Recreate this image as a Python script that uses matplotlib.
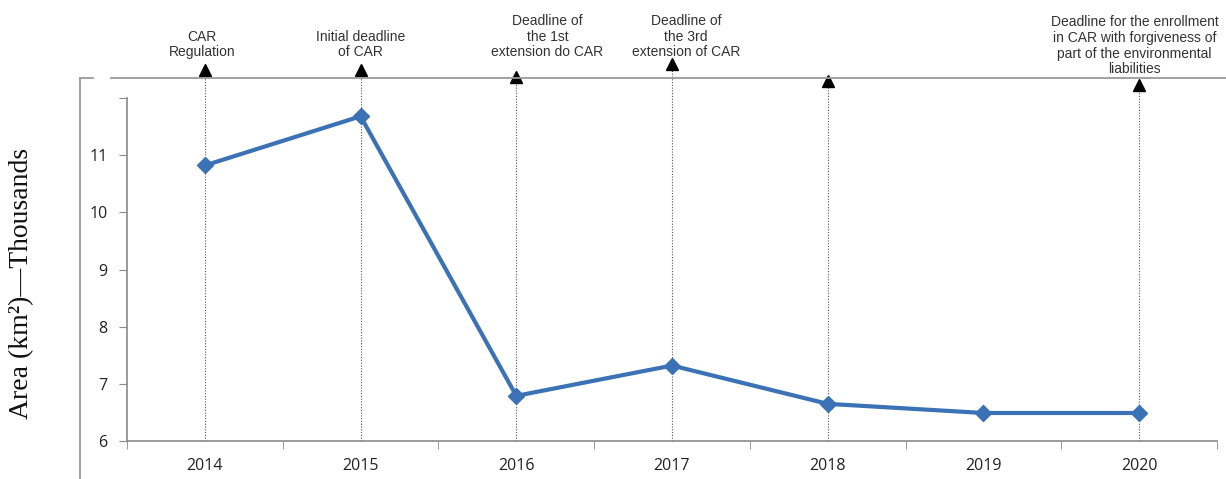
import matplotlib
matplotlib.use("Agg")
import matplotlib.pyplot as plt
from matplotlib.lines import Line2D

# data (km2, thousands)
years = ["2014", "2015", "2016", "2017", "2018", "2019", "2020"]
area = [10.82, 11.68, 6.79, 7.32, 6.65, 6.49, 6.49]
yticks = [6, 7, 8, 9, 10, 11]

# events marked by arrows: year index, label, arrow tip height (data units)
event_idx = [0, 1, 2, 3, 4, 6]
event_text = [
    "CAR\nRegulation",
    "Initial deadline\nof CAR",
    "Deadline of\nthe 1st\nextension do CAR",
    "Deadline of\nthe 3rd\nextension of CAR",
    "",
    "Deadline for the enrollment\nin CAR with forgiveness of\npart of the environmental\nliabilities",
]
event_tip = [12.58, 12.58, 12.46, 12.68, 12.38, 12.32]
# label placement: shift in category units, baseline of the last line (data units)
label_dx = [-0.02, 0.0, 0.2, 0.09, 0.0, -0.03]
label_base = [12.73, 12.73, 12.73, 12.73, 12.73, 12.43]

W, H = 1226, 479
fig = plt.figure(figsize=(W / 100, H / 100), dpi=100)
fig.patch.set_facecolor("white")

# outer bracket frame
gray = "#9a9a9a"
fig.add_artist(Line2D([80 / W, 80 / W], [0, 1 - 78 / H], color=gray, lw=1.3))
fig.add_artist(Line2D([80 / W, 93 / W], [1 - 78 / H, 1 - 78 / H], color=gray, lw=1.3))
fig.add_artist(Line2D([111 / W, 1], [1 - 78 / H, 1 - 78 / H], color=gray, lw=1.3))

ax = fig.add_axes([127 / W, 1 - 441 / H, (1217 - 127) / W, (441 - 98) / H])
x = list(range(len(years)))

ax.set_xlim(-0.5, len(years) - 0.5)
ax.set_ylim(6, 12)

for i, txt, tip, dx, yb in zip(event_idx, event_text, event_tip, label_dx, label_base):
    ax.plot([i, i], [6, tip - 0.1], color="#555555", lw=0.8, ls=(0, (1, 1.5)),
            clip_on=False, zorder=1)
    ax.plot(i, tip - 0.09, marker="^", color="black", ms=8.5, clip_on=False, zorder=2)
    if txt:
        ax.text(i + dx, yb, txt, ha="center", va="baseline", fontsize=10,
                family="Liberation Sans", color="#333333", linespacing=1.15,
                clip_on=False)

ax.plot(x, area, color="#3b72b5", lw=3, marker="D", ms=8, zorder=3, clip_on=False)

for s in ["top", "right"]:
    ax.spines[s].set_visible(False)
for s in ["left", "bottom"]:
    ax.spines[s].set_color("#8a8a8a")
    ax.spines[s].set_linewidth(1.2)

ax.set_yticks(yticks + [12])
ax.set_yticklabels([str(v) for v in yticks] + [""])
ax.set_xticks(x)
ax.set_xticklabels(years)
ax.set_xticks([v + 0.5 for v in range(-1, len(years))], minor=True)
ax.tick_params(axis="x", which="major", length=0, pad=12)
ax.tick_params(axis="x", which="minor", length=6, color="#8a8a8a", direction="out")
ax.tick_params(axis="y", length=6, color="#8a8a8a", pad=8)
for lab in ax.get_xticklabels() + ax.get_yticklabels():
    lab.set_fontsize(11.5)
    lab.set_family("Open Sans")
    lab.set_color("#222222")

fig.text(22 / W, 1 - 283 / H, "Area (km\u00b2)\u2014Thousands", rotation=90,
         ha="center", va="center", fontsize=20, family="Liberation Serif",
         color="#111111")

fig.savefig("out.png", dpi=100, facecolor="white")
